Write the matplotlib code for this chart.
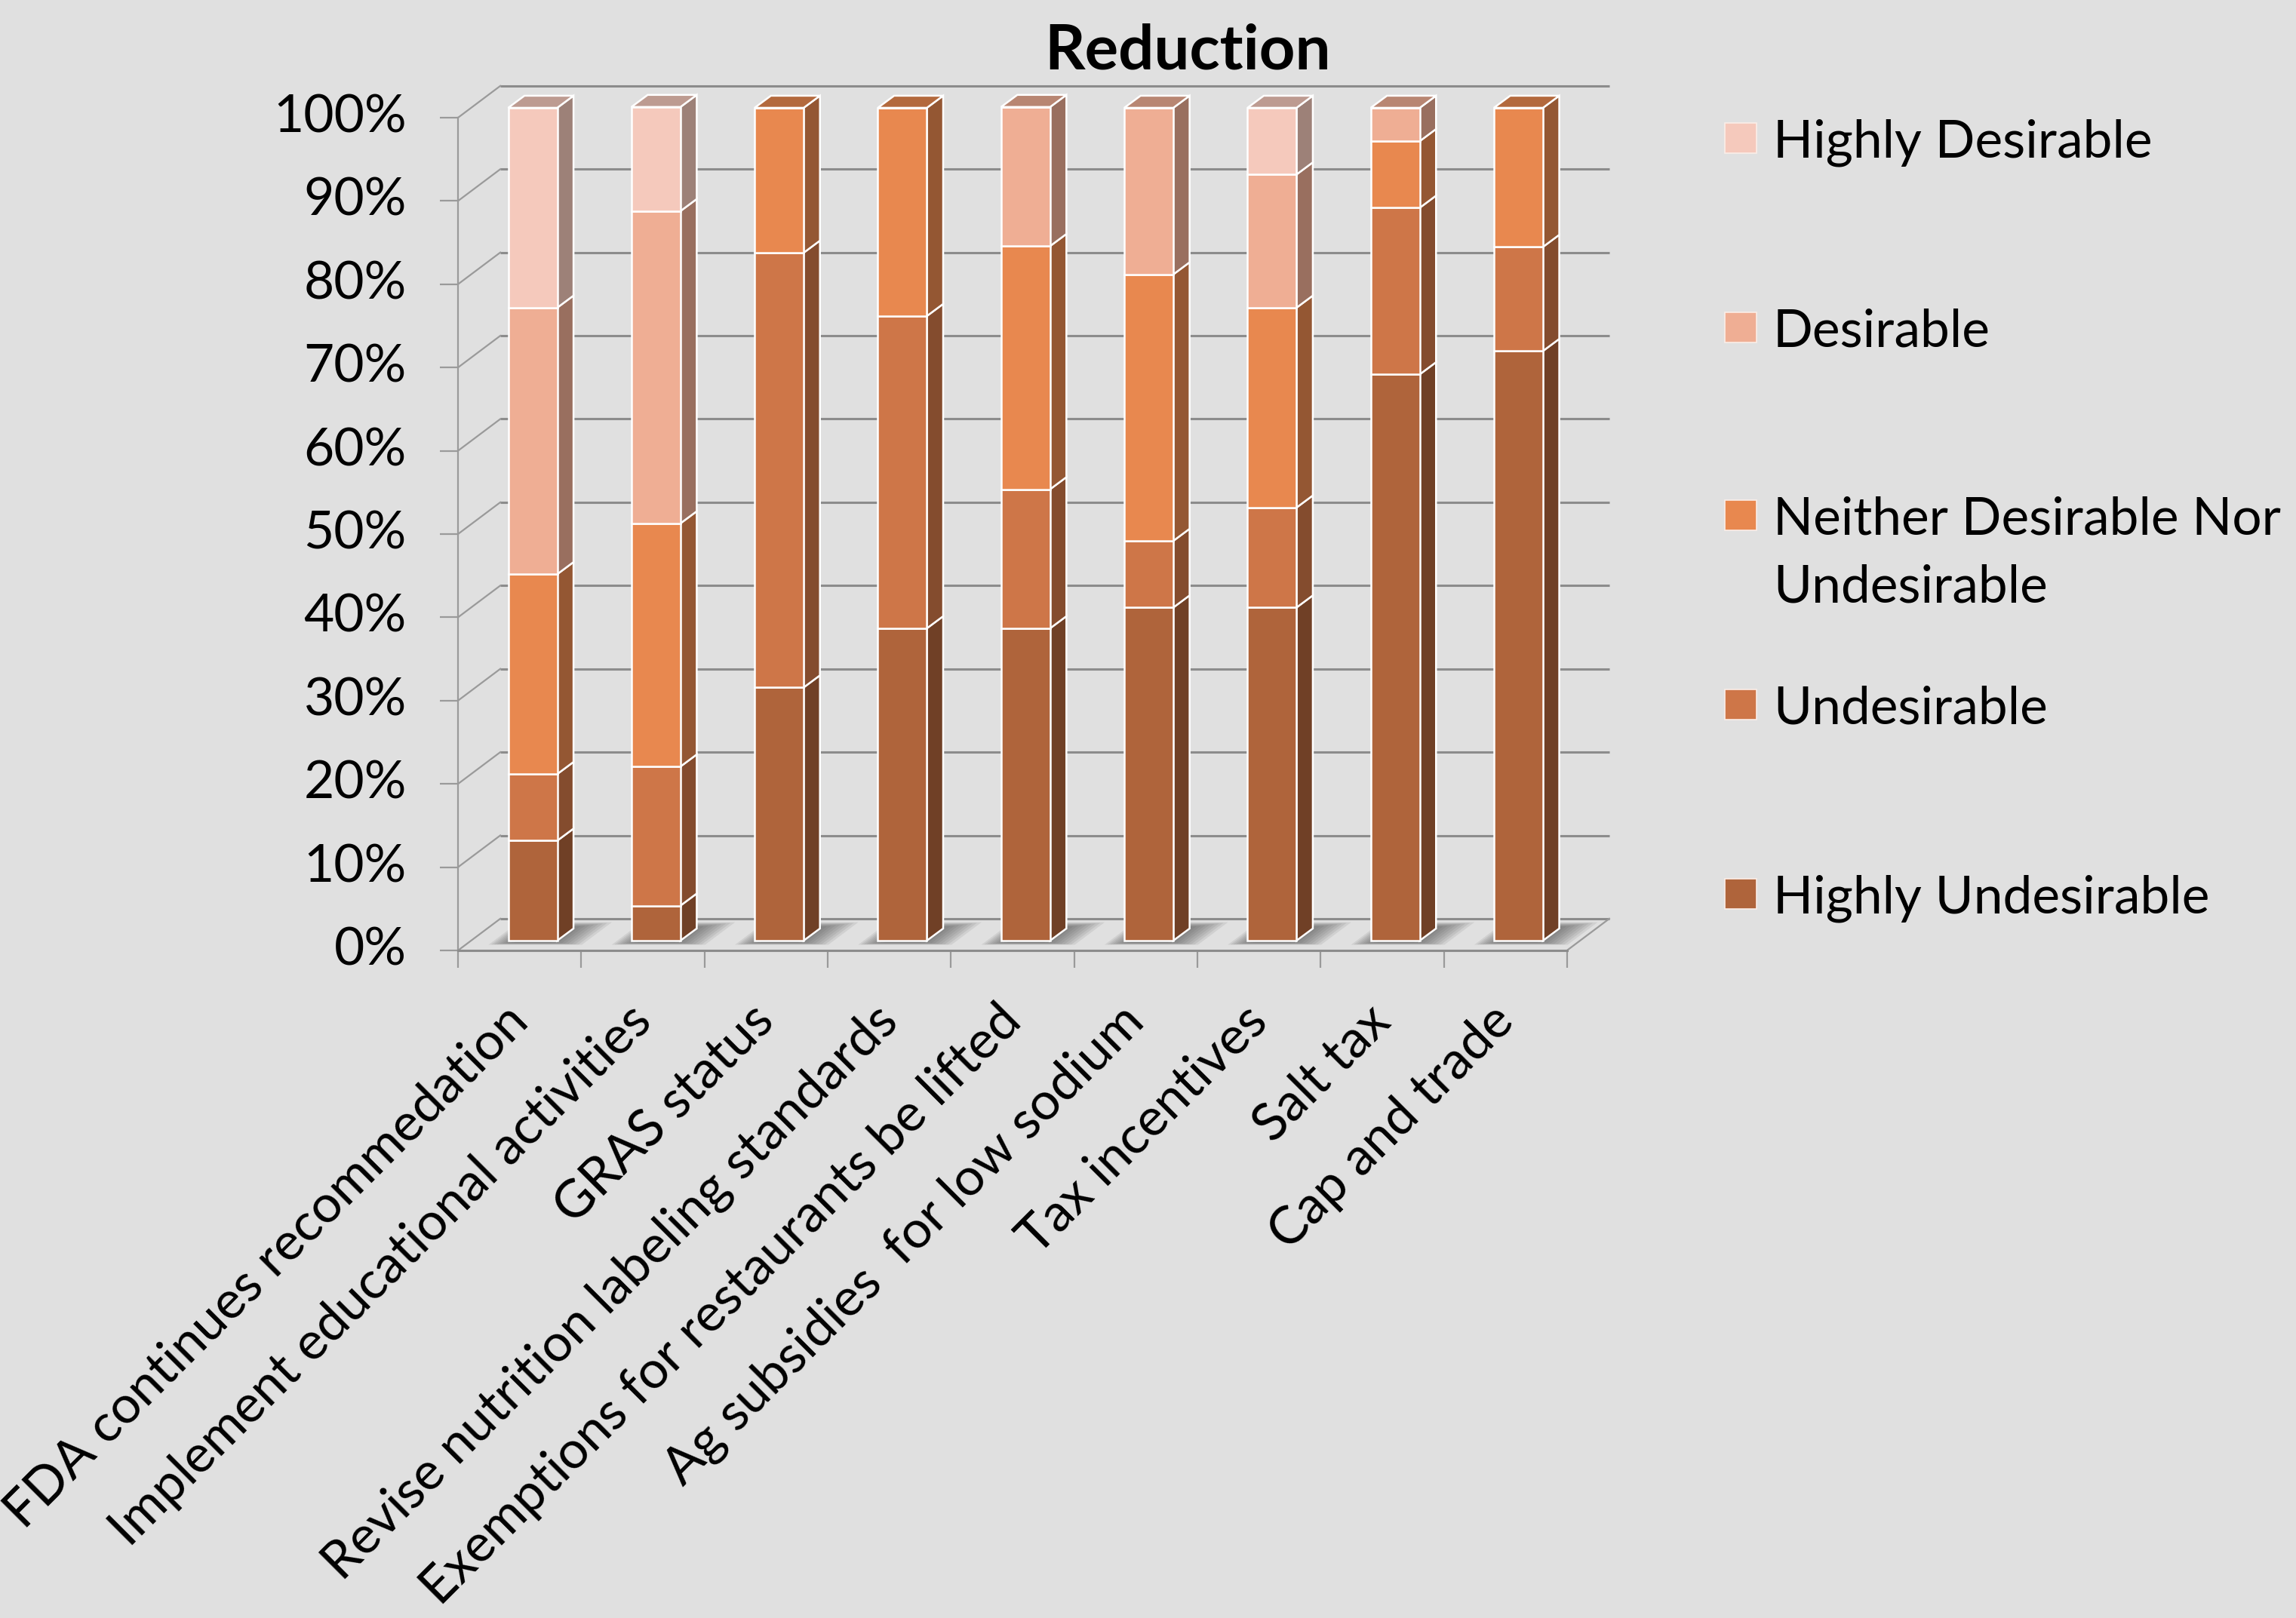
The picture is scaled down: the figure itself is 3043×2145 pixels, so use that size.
import matplotlib
matplotlib.use('Agg')
from matplotlib import pyplot as plt
from matplotlib.patches import Polygon, Rectangle
from matplotlib.transforms import ScaledTranslation
import numpy as np

categories = ['FDA continues recommedation', 'Implement educational activities', 'GRAS status',
              'Revise nutrition labeling standards', 'Exemptions for restaurants be lifted',
              'Ag subsidies  for low sodium', 'Tax incentives', 'Salt tax', 'Cap and trade']

# percent of respondents, bottom of the stack first
highly_undesirable = [12, 4.2, 30.4, 37.5, 37.5, 40, 40, 68, 70.8]
undesirable = [8, 16.7, 52.2, 37.5, 16.7, 8, 12, 20, 12.5]
neither = [24, 29.2, 17.4, 25, 29.2, 32, 24, 8, 16.7]
desirable = [32, 37.5, 0, 0, 16.7, 20, 16, 4, 0]
highly_desirable = [24, 12.5, 0, 0, 0, 0, 8, 0, 0]

series_names = ['Highly Undesirable', 'Undesirable', 'Neither Desirable Nor\nUndesirable',
                'Desirable', 'Highly Desirable']
series_colors = ['#af643b', '#ce7648', '#e8884f', '#efae94', '#f5c9bc']

pct_ticks = list(range(0, 101, 10))

BG = '#e0e0e0'
GRID = '#8c8c8c'
FONT = 'Lato'

# fake 3D: offsets in data units
FRONT_DX, FRONT_DY = 0.106, 1.18   # bar plane sits behind the front plane
WALL_DX, WALL_DY = 0.343, 3.81     # depth of floor / back wall
SIDE_DX, SIDE_DY = 0.132, 1.45     # depth of each bar
BAR_W = 0.398


def shade(color, f):
    rgb = np.array(matplotlib.colors.to_rgb(color))
    return tuple(rgb * f)


def draw_walls(ax):
    x0 = -0.5 - FRONT_DX
    x1 = len(categories) - 0.5 - FRONT_DX
    for v in pct_ticks:
        yf = v - FRONT_DY
        yb = yf + WALL_DY
        ax.plot([x0 + WALL_DX, x1 + WALL_DX], [yb, yb], color=GRID, lw=1.1,
                zorder=1, clip_on=False, solid_capstyle='butt')
        ax.plot([x0, x0 + WALL_DX], [yf, yb], color='#9a9a9a', lw=0.8,
                zorder=1, clip_on=False)
    # right edge of the floor
    ax.plot([x1, x1 + WALL_DX], [-FRONT_DY, -FRONT_DY + WALL_DY], color='#9a9a9a',
            lw=0.8, zorder=1, clip_on=False)


def draw_shadow(ax, xl, xr):
    # soft shadow cast on the floor behind each bar, built from stacked layers
    slope = WALL_DX / WALL_DY
    for k in range(10):
        y_lo = -0.5 + k * 0.03
        y_hi = 2.2 - k * 0.07
        lx = xl - 0.16 + k * 0.02
        rx = xr + 0.2 - k * 0.03
        pts = [(lx + slope * (y_lo + 0.5), y_lo), (rx + slope * (y_lo + 0.5), y_lo),
               (rx + slope * (y_hi + 0.5), y_hi), (lx + slope * (y_hi + 0.5), y_hi)]
        ax.add_patch(Polygon(pts, closed=True, facecolor='#505050', edgecolor='none',
                             alpha=0.11, zorder=2, clip_on=False))


def draw_bars(ax):
    data = [highly_undesirable, undesirable, neither, desirable, highly_desirable]
    x = np.arange(len(categories))
    for i in x:
        draw_shadow(ax, i - BAR_W / 2, i + BAR_W / 2)

    bottoms = np.zeros(len(categories))
    for vals, col in zip(data, series_colors):
        vals = np.array(vals, dtype=float)
        ax.bar(x, vals, bottom=bottoms, width=BAR_W, color=col,
               edgecolor='white', linewidth=0.9, zorder=5, clip_on=False)
        for i, (b, v) in enumerate(zip(bottoms, vals)):
            if v <= 0:
                continue
            xr = i + BAR_W / 2
            side = [(xr, b), (xr + SIDE_DX, b + SIDE_DY),
                    (xr + SIDE_DX, b + v + SIDE_DY), (xr, b + v)]
            ax.add_patch(Polygon(side, closed=True, facecolor=shade(col, 0.64),
                                 edgecolor='white', linewidth=0.9, zorder=4,
                                 clip_on=False))
        bottoms = bottoms + vals

    # lid on top of each stack, coloured from the topmost segment
    for i in x:
        top = bottoms[i]
        top_col = series_colors[0]
        for vals, col in zip(data, series_colors):
            if vals[i] > 0:
                top_col = col
        xl, xr = i - BAR_W / 2, i + BAR_W / 2
        lid = [(xl, top), (xl + SIDE_DX, top + SIDE_DY),
               (xr + SIDE_DX, top + SIDE_DY), (xr, top)]
        ax.add_patch(Polygon(lid, closed=True, facecolor=shade(top_col, 0.77),
                             edgecolor='white', linewidth=0.9, zorder=4,
                             clip_on=False))


def draw_legend(fig):
    W, H = 3043, 2145
    centers = [183, 434, 683, 934, 1185]
    names = series_names[::-1]
    colors = series_colors[::-1]
    for yc, name, col in zip(centers, names, colors):
        fig.patches.append(Rectangle((2286 / W, 1 - (yc + 20) / H), 42 / W, 40 / H,
                                     transform=fig.transFigure, facecolor=col,
                                     edgecolor='#fbeee8', linewidth=0.6))
        # multi-line entries hang down from the marker row
        for j, line in enumerate(name.split('\n')):
            fig.text(2350 / W, 1 - (yc + j * 90) / H, line, fontsize=25, family=FONT,
                     va='center_baseline', ha='left')


def main():
    fig = plt.figure(figsize=(15.215, 10.725), dpi=200)
    fig.patch.set_facecolor(BG)
    ax = fig.add_axes([0.1995, 0.4126, 0.4830, 0.5147])
    ax.set_facecolor('none')

    n = len(categories)
    ax.set_xlim(-0.5 - FRONT_DX, n - 0.5 - FRONT_DX)
    ax.set_ylim(-FRONT_DY, 100 - FRONT_DY)

    draw_walls(ax)
    draw_bars(ax)

    for s in ['top', 'right']:
        ax.spines[s].set_visible(False)
    ax.spines['left'].set_color('#9a9a9a')
    ax.spines['left'].set_linewidth(0.8)
    ax.spines['bottom'].set_color(GRID)
    ax.spines['bottom'].set_linewidth(1.1)

    ax.set_yticks([v - FRONT_DY for v in pct_ticks],
                  ['{}%'.format(v) for v in pct_ticks])
    ax.tick_params(axis='y', length=8.6, width=0.8, color='#9a9a9a', pad=16,
                   labelsize=25)

    ax.set_xticks(np.arange(n), categories, rotation=45, ha='right',
                  rotation_mode='anchor')
    ax.set_xticks([k - 0.5 - FRONT_DX for k in range(n + 1)], minor=True)
    ax.tick_params(axis='x', which='major', length=0, pad=30, labelsize=25)
    ax.tick_params(axis='x', which='minor', length=8.3, width=0.8, color='#9a9a9a')

    shift = ScaledTranslation(-6 / 72, 0, fig.dpi_scale_trans)
    for lab in ax.get_xticklabels():
        lab.set_transform(lab.get_transform() + shift)
    for lab in ax.get_xticklabels() + ax.get_yticklabels():
        lab.set_family(FONT)
        lab.set_va('center')

    fig.text(1574 / 3043, 1 - 91 / 2145, 'Reduction', fontsize=30, family=FONT,
             fontweight='bold', ha='center', va='baseline')

    draw_legend(fig)

    fig.savefig('out.png', dpi=200, facecolor=BG)


if __name__ == '__main__':
    main()
